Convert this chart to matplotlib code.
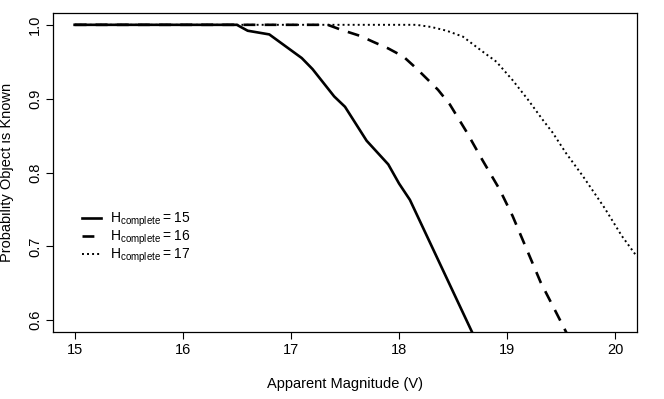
import matplotlib
matplotlib.use('Agg')
import matplotlib.pyplot as plt

plt.rcParams['font.family'] = ['Liberation Sans', 'DejaVu Sans']
plt.rcParams['mathtext.fontset'] = 'custom'
plt.rcParams['mathtext.rm'] = 'Liberation Sans'

# H_complete = 15
mag15 = [15.0, 16.5, 16.6, 16.8, 17.1, 17.2, 17.4, 17.5, 17.7, 17.9, 18.0, 18.1, 18.7]
prob15 = [1.0, 1.0, 0.992, 0.987, 0.955, 0.940, 0.903, 0.889, 0.843, 0.811, 0.785, 0.763, 0.576]

# H_complete = 16
mag16 = [15.0, 17.34, 17.47, 17.64, 17.76, 17.90, 18.04, 18.16, 18.25, 18.36, 18.47,
         18.62, 18.77, 18.93, 19.05, 19.18, 19.31, 19.44, 19.6]
prob16 = [1.0, 1.0, 0.993, 0.985, 0.977, 0.968, 0.957, 0.941, 0.928, 0.912, 0.892,
          0.856, 0.817, 0.777, 0.741, 0.696, 0.651, 0.614, 0.568]

# H_complete = 17
mag17 = [15.0, 18.16, 18.30, 18.44, 18.59, 18.77, 18.90, 19.05, 19.19, 19.33, 19.42,
         19.54, 19.70, 19.90, 20.06, 20.15, 20.2]
prob17 = [1.0, 1.0, 0.997, 0.992, 0.984, 0.964, 0.950, 0.925, 0.899, 0.871, 0.854,
          0.827, 0.795, 0.752, 0.714, 0.696, 0.686]

fig = plt.figure(figsize=(6.64, 3.99), dpi=100)
ax = fig.add_axes([53/664, 1-332/399, 584/664, 319/399])

l1, = ax.plot(mag15, prob15, color='black', lw=1.9, linestyle='-')
l2, = ax.plot(mag16, prob16, color='black', lw=1.9, linestyle=(0, (4.5, 3.5)))
l3, = ax.plot(mag17, prob17, color='black', lw=1.4, linestyle=(0, (1, 1.6)))

ax.set_xlim(14.8, 20.2)
ax.set_ylim(0.584, 1.016)
ax.set_xticks([15, 16, 17, 18, 19, 20])
ax.set_yticks([0.6, 0.7, 0.8, 0.9, 1.0])
ax.set_yticklabels(['0.6', '0.7', '0.8', '0.9', '1.0'], rotation=90, va='center')
ax.tick_params(direction='out', length=5, width=0.8, labelsize=10.5, pad=3)
for s in ax.spines.values():
    s.set_linewidth(0.9)

ax.set_xlabel('Apparent Magnitude (V)', fontsize=10.5, labelpad=14)
ax.set_ylabel('Probability Object is Known', fontsize=10.5)
ax.yaxis.set_label_coords(-0.066, 0.5)

labels = [r'$\mathregular{H_{complete}=15}$',
          r'$\mathregular{H_{complete}=16}$',
          r'$\mathregular{H_{complete}=17}$']
ax.legend([l1, l2, l3], labels, loc='upper left', bbox_to_anchor=(0.028, 0.42),
          frameon=False, fontsize=10, handlelength=1.4, handletextpad=0.6,
          labelspacing=0.0)

plt.savefig('out.png', dpi=100)
